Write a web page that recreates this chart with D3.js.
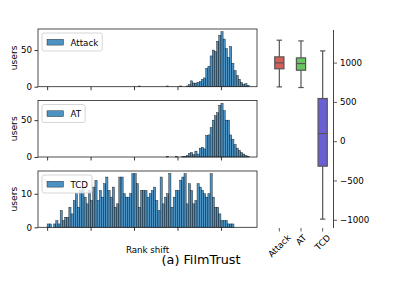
<!DOCTYPE html>
<html>
<head>
<meta charset="utf-8">
<script src="https://cdn.jsdelivr.net/npm/d3@7"></script>
<style>
  body { margin: 0; background: #fff; }
  text { font-family: "DejaVu Sans", sans-serif; fill: #000; }
</style>
</head>
<body>
<div id="chart"></div>
<script>
var svgWidth = 399;
var svgHeight = 299;

// histogram counts per bin (bins of 25 starting at -1000)
var attackCounts = [
  0, 0, 0, 0, 0, 0, 0, 0, 0, 0,
  0, 0, 0, 0, 0, 0, 0, 0, 0, 0,
  0, 0, 0, 0, 0, 0, 0, 0, 0, 0,
  0, 0, 0, 0, 0, 0, 0, 0, 0, 0,
  0, 0, 1, 0, 0, 0, 0, 0, 0, 0,
  0, 0, 0, 0, 0, 1, 0, 0, 0, 0,
  0, 1, 0, 0, 1, 3, 8, 5, 5, 6,
  7, 10, 12, 25, 28, 42, 50, 48, 62, 70,
  75, 65, 52, 40, 55, 32, 22, 15, 10, 6,
  3, 4, 2
];
var atCounts = [
  0, 0, 0, 0, 0, 0, 0, 0, 0, 0,
  0, 0, 0, 0, 0, 0, 0, 0, 0, 0,
  0, 0, 0, 0, 0, 0, 0, 0, 0, 0,
  0, 0, 0, 0, 0, 0, 0, 0, 0, 0,
  0, 0, 0, 0, 0, 0, 0, 0, 0, 0,
  0, 0, 0, 0, 0, 1, 0, 0, 0, 1,
  0, 0, 1, 1, 2, 5, 6, 3, 8, 4,
  12, 13, 11, 29, 30, 40, 50, 56, 60, 70,
  73, 63, 50, 50, 30, 24, 17, 12, 9, 6,
  4, 2, 1
];
var tcdCounts = [
  1, 1, 0, 1, 2, 1, 5, 2, 3, 3,
  6, 4, 8, 10, 6, 11, 12, 9, 7, 11,
  8, 12, 14, 8, 11, 9, 13, 15, 11, 9,
  12, 6, 7, 15, 15, 10, 9, 9, 10, 16,
  16, 13, 6, 11, 11, 11, 9, 10, 11, 12,
  8, 5, 15, 7, 9, 10, 16, 6, 9, 11,
  11, 14, 15, 16, 7, 13, 11, 7, 8, 13,
  12, 11, 10, 9, 10, 16, 9, 6, 6, 4,
  2, 2, 2, 1, 1, 1, 0, 0, 0, 0,
  0, 0, 0
];

// boxplot stats: [whisker low, q1, median, q3, whisker high]
var boxNames = ["Attack", "AT", "TCD"];
var boxStats = [
  [691, 921, 997, 1073, 1285],
  [683, 903, 988, 1060, 1276],
  [-992, -318, 98, 543, 1149]
];
var boxColors = ["#d35f5a", "#66c75f", "#6a5fd5"];

var rankTicks = [-1000, -500, 0, 500, 1000];
var binStart = -1000, binWidth = 25;
var binLows = d3.range(binStart, binStart + binWidth * tcdCounts.length, binWidth);

var svg = d3.select("#chart").append("svg")
  .attr("width", svgWidth)
  .attr("height", svgHeight)
  .style("background", "#fff");

// shared rank-shift scale
var xScale = d3.scaleLinear().domain([-1105, 1415]).range([38, 257]);

var panels = [
  { name: "Attack", counts: attackCounts, top: 29, bottom: 86.7, ticks: [0, 50] },
  { name: "AT", counts: atCounts, top: 100.5, bottom: 157, ticks: [0, 50] },
  { name: "TCD", counts: tcdCounts, top: 171, bottom: 227.3, ticks: [0, 10] }
];

panels.forEach(function(p) {
  var yScale = d3.scaleLinear()
    .domain([0, d3.max(p.counts) * 1.05])
    .range([p.bottom, p.top]);

  var g = svg.append("g");

  g.selectAll("rect.bar")
    .data(p.counts.map(function(c, i) { return { lo: binLows[i], c: c }; }).filter(function(d) { return d.c > 0; }))
    .enter()
    .append("rect")
    .attr("class", "bar")
    .attr("x", d => xScale(d.lo))
    .attr("width", d => xScale(d.lo + binWidth) - xScale(d.lo))
    .attr("y", d => yScale(d.c))
    .attr("height", d => yScale(0) - yScale(d.c))
    .attr("fill", "#1f77b4")
    .attr("fill-opacity", 0.8)
    .attr("stroke", "#111")
    .attr("stroke-width", 0.4);

  // y axis
  var yAxis = g.append("g")
    .attr("transform", "translate(38,0)")
    .call(d3.axisLeft(yScale).tickValues(p.ticks).tickSize(3.5).tickPadding(2.5));
  yAxis.select(".domain").remove();
  yAxis.selectAll("line").attr("stroke", "#000").attr("stroke-width", 0.8);
  yAxis.selectAll("text").style("font-size", "8.7px").style("font-family", "DejaVu Sans");

  // x axis ticks without labels
  var xAxis = g.append("g")
    .attr("transform", "translate(0," + p.bottom + ")")
    .call(d3.axisBottom(xScale).tickValues(rankTicks).tickSize(3.5).tickFormat(""));
  xAxis.select(".domain").remove();
  xAxis.selectAll("line").attr("stroke", "#000").attr("stroke-width", 0.8);

  // frame
  g.append("rect")
    .attr("x", 38).attr("y", p.top)
    .attr("width", 257 - 38).attr("height", p.bottom - p.top)
    .attr("fill", "none").attr("stroke", "#222").attr("stroke-width", 0.8);

  // y label
  g.append("text")
    .attr("transform", "translate(14," + ((p.top + p.bottom) / 2) + ") rotate(-90)")
    .attr("text-anchor", "middle")
    .attr("dy", "0.35em")
    .style("font-size", "9.2px")
    .text("users");

  // legend
  var lg = g.append("g");
  var box = lg.append("rect")
    .attr("x", 42).attr("y", p.top + 4)
    .attr("height", 18).attr("rx", 2)
    .attr("fill", "#fff").attr("fill-opacity", 0.8)
    .attr("stroke", "#ccc").attr("stroke-width", 0.8);
  lg.append("rect")
    .attr("x", 47).attr("y", p.top + 10.3)
    .attr("width", 16.5).attr("height", 5.8)
    .attr("fill", "#1f77b4").attr("fill-opacity", 0.8)
    .attr("stroke", "#111").attr("stroke-width", 0.4);
  var lt = lg.append("text")
    .attr("x", 70.5).attr("y", p.top + 16.6)
    .style("font-size", "8.7px")
    .text(p.name);
  box.attr("width", 70.5 - 42 + lt.node().getComputedTextLength() + 4);
});

svg.append("text")
  .attr("x", 147.5).attr("y", 253)
  .attr("text-anchor", "middle")
  .style("font-size", "8.7px")
  .text("Rank shift");

svg.append("text")
  .attr("x", 201).attr("y", 263.5)
  .attr("text-anchor", "middle")
  .style("font-size", "12.8px")
  .text("(a) FilmTrust");

// boxplot
var bx = d3.scaleBand().domain(boxNames).range([268.5, 333.5]);
var by = d3.scaleLinear().domain([-1105, 1415]).range([228, 30]);
var boxW = 9.2, capW = 5.4, edge = "#555";

var bg = svg.append("g");
boxNames.forEach(function(name, i) {
  var s = boxStats[i];
  var cx = bx(name) + bx.bandwidth() / 2;
  bg.append("line")
    .attr("x1", cx).attr("x2", cx).attr("y1", by(s[0])).attr("y2", by(s[1]))
    .attr("stroke", edge).attr("stroke-width", 1.2);
  bg.append("line")
    .attr("x1", cx).attr("x2", cx).attr("y1", by(s[3])).attr("y2", by(s[4]))
    .attr("stroke", edge).attr("stroke-width", 1.2);
  [s[0], s[4]].forEach(function(v) {
    bg.append("line")
      .attr("x1", cx - capW / 2).attr("x2", cx + capW / 2)
      .attr("y1", by(v)).attr("y2", by(v))
      .attr("stroke", edge).attr("stroke-width", 1.2);
  });
  bg.append("rect")
    .attr("x", cx - boxW / 2).attr("width", boxW)
    .attr("y", by(s[3])).attr("height", by(s[1]) - by(s[3]))
    .attr("fill", boxColors[i])
    .attr("stroke", edge).attr("stroke-width", 1.2);
  bg.append("line")
    .attr("x1", cx - boxW / 2).attr("x2", cx + boxW / 2)
    .attr("y1", by(s[2])).attr("y2", by(s[2]))
    .attr("stroke", edge).attr("stroke-width", 1.2);

  // tick mark and rotated label
  bg.append("line")
    .attr("x1", cx).attr("x2", cx).attr("y1", 228).attr("y2", 231.5)
    .attr("stroke", "#333").attr("stroke-width", 0.8);
  var t = bg.append("text")
    .attr("text-anchor", "middle")
    .attr("dy", "0.35em")
    .style("font-size", "8.7px")
    .text(name);
  var L = t.node().getComputedTextLength();
  var off = (L + 8.7) / (2 * Math.SQRT2);
  t.attr("transform", "translate(" + cx + "," + (233 + off) + ") rotate(-45)");
});

var rAxis = bg.append("g")
  .attr("transform", "translate(333.5,0)")
  .call(d3.axisRight(by).tickValues(rankTicks).tickSize(3.5).tickPadding(3).tickFormat(d3.format("d")));
rAxis.select(".domain").remove();
rAxis.selectAll("line").attr("stroke", "#333").attr("stroke-width", 0.8);
rAxis.selectAll("text").style("font-size", "8.7px").style("font-family", "DejaVu Sans");
bg.append("line")
  .attr("x1", 333.5).attr("x2", 333.5).attr("y1", 30).attr("y2", 228)
  .attr("stroke", "#444").attr("stroke-width", 1);
</script>
</body>
</html>
